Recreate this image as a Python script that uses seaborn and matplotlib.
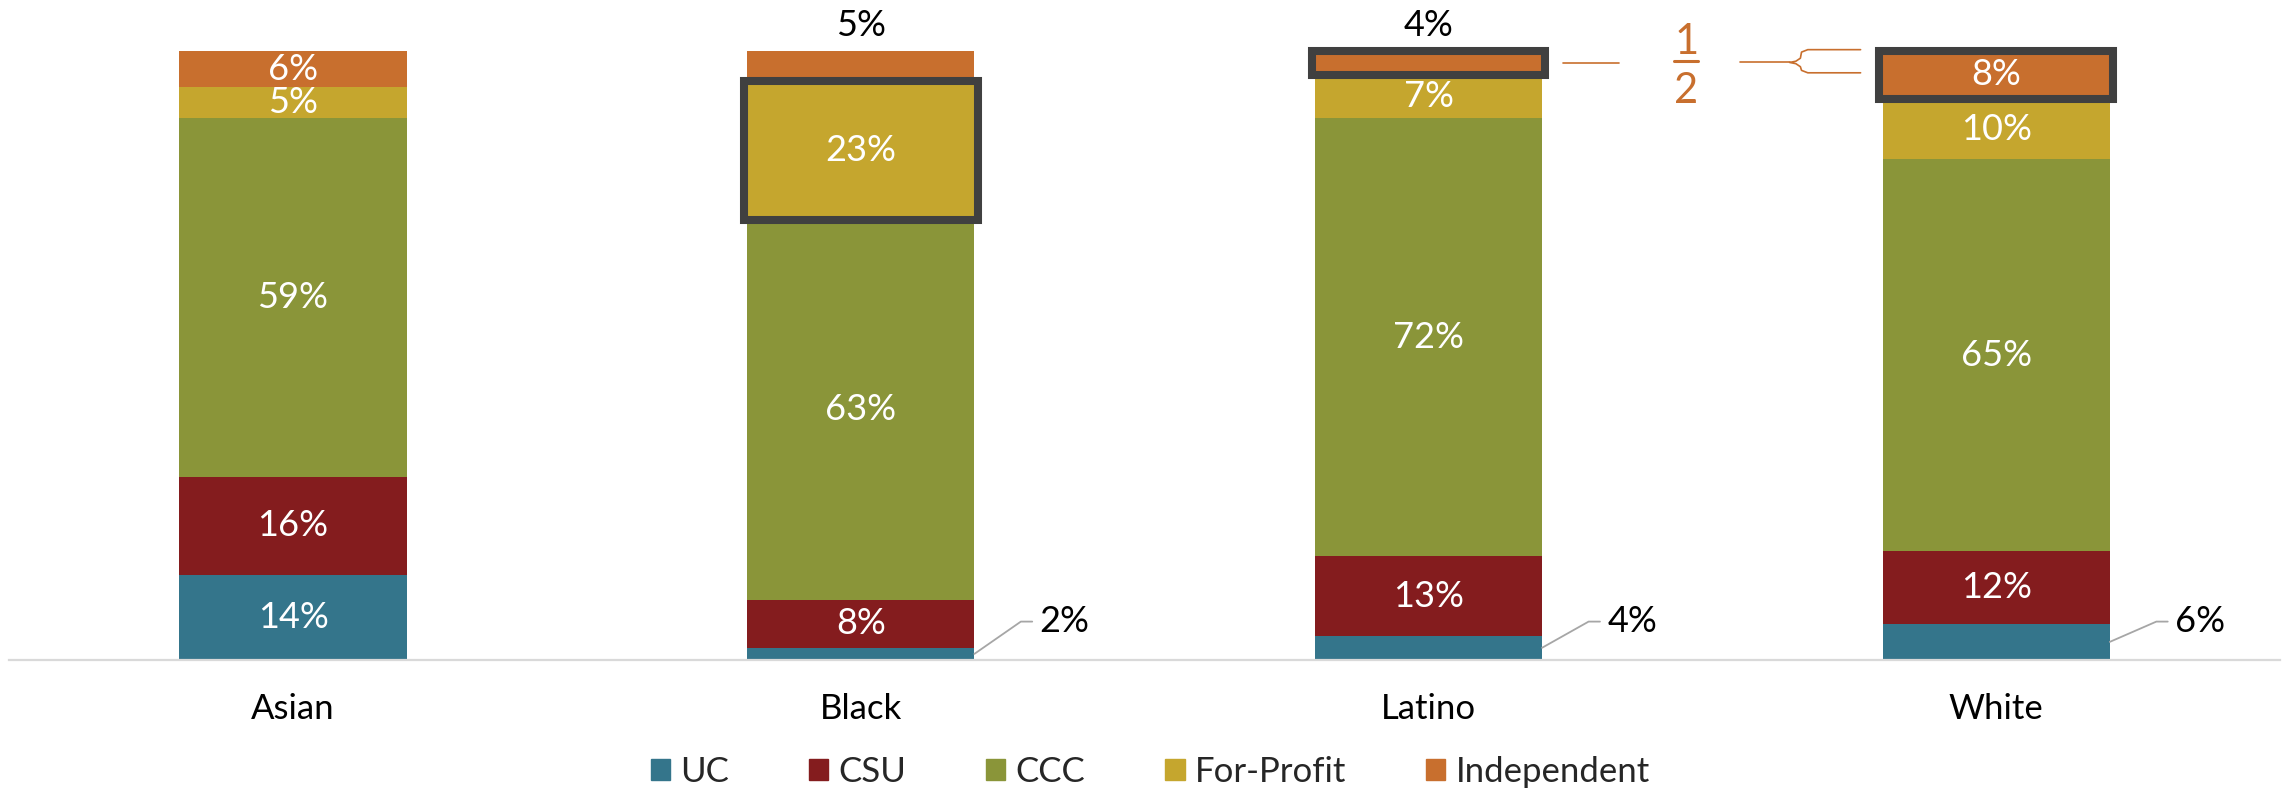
import matplotlib.pyplot as plt
import matplotlib.patches as mpatches
import seaborn as sns
import pandas as pd

# Data (percent of each group's enrollment by segment)
groups = ["Asian", "Black", "Latino", "White"]
segments = ["UC", "CSU", "CCC", "For-Profit", "Independent"]
uc = [14, 2, 4, 6]
csu = [16, 8, 13, 12]
ccc = [59, 63, 72, 65]
for_profit = [5, 23, 7, 10]
independent = [6, 5, 4, 8]

# which labels sit outside the bar, and which segments get a box
uc_outside = ["Black", "Latino", "White"]
top_outside = ["Black", "Latino"]
highlights = [("Black", "For-Profit"), ("Latino", "Independent"), ("White", "Independent")]

colors = ["#34758B", "#841C1E", "#8A9539", "#C5A62E", "#C86F2E"]

sns.set_theme(style="white")
plt.rcParams['font.family'] = ['Lato', 'DejaVu Sans']

df = pd.DataFrame({
    "Group": groups,
    "UC": uc,
    "CSU": csu,
    "CCC": ccc,
    "For-Profit": for_profit,
    "Independent": independent,
})
vals = df[segments].to_numpy(float)
share = vals / vals.sum(axis=1, keepdims=True) * 100
cum = share.cumsum(axis=1)

fig = plt.figure(figsize=(22.87, 7.9), dpi=100)
ax = fig.add_axes([0.004, 0.1646, 0.993, 0.771])

w = 0.4
# stacked bars: draw the tallest cumulative layer first, shorter ones on top
for j in range(len(segments) - 1, -1, -1):
    sns.barplot(x=df["Group"], y=cum[:, j], color=colors[j], width=w,
                saturation=1, linewidth=0, errorbar=None, ax=ax)

# value labels
for i, g in enumerate(groups):
    for j, s in enumerate(segments):
        lo = cum[i, j] - share[i, j]
        mid = lo + share[i, j] / 2
        txt = f"{int(vals[i, j])}%"
        if j == 0 and g in uc_outside:
            x0 = i + w / 2
            ax.plot([x0, x0 + 0.082, x0 + 0.102], [mid, 6.3, 6.3],
                    color="#A6A6A6", lw=1.3, clip_on=False, zorder=4)
            ax.text(x0 + 0.115, 6.3, txt, ha="left", va="center",
                    fontsize=26, color="black")
        elif j == 4 and g in top_outside:
            ax.text(i, 104.2, txt, ha="center", va="center",
                    fontsize=26, color="black")
        else:
            ax.text(i, mid, txt, ha="center", va="center",
                    fontsize=26, color="white", zorder=6)

# highlight boxes
for g, s in highlights:
    i = groups.index(g)
    j = segments.index(s)
    lo = cum[i, j] - share[i, j]
    ax.add_patch(mpatches.Rectangle((i - w / 2 - 0.006, lo), w + 0.012, share[i, j],
                                    fill=False, edgecolor="#404040", lw=5.8,
                                    zorder=5, clip_on=False))

# "1/2" callout between Latino and White
orange = colors[4]
ax.plot([2.236, 2.336], [98.0, 98.0], color=orange, lw=1.2, clip_on=False)
ax.text(2.454, 101.5, "1", ha="center", va="center", fontsize=30, color=orange)
ax.plot([2.433, 2.475], [98.3, 98.3], color=orange, lw=2.2, clip_on=False)
ax.text(2.454, 93.4, "2", ha="center", va="center", fontsize=30, color=orange)
ax.plot([2.549, 2.636], [98.1, 98.1], color=orange, lw=1.2, clip_on=False)
ax.plot([2.761, 2.668, 2.657, 2.655, 2.647, 2.636, 2.647, 2.655, 2.657, 2.668, 2.761],
        [100.2, 100.2, 99.8, 98.8, 98.3, 98.1, 97.9, 97.4, 96.8, 96.4, 96.4],
        color=orange, lw=1.2, clip_on=False)

# axes styling
ax.set_xlim(-0.5, 3.5)
ax.set_ylim(0, 100)
ax.set_yticks([])
ax.set_xlabel("")
ax.set_ylabel("")
for side in ["left", "top", "right"]:
    ax.spines[side].set_visible(False)
ax.spines["bottom"].set_color("#D9D9D9")
ax.spines["bottom"].set_linewidth(1.6)
ax.tick_params(axis="x", length=0, pad=24, labelsize=25, labelcolor="black")

handles = [mpatches.Patch(color=c, label=s) for c, s in zip(colors, segments)]
fig.legend(handles=handles, loc="center", bbox_to_anchor=(0.503, 0.023), ncol=5,
           frameon=False, fontsize=25, handlelength=0.55, handleheight=0.55,
           handletextpad=0.3, columnspacing=2.3)

fig.savefig("out.png", dpi=100)
